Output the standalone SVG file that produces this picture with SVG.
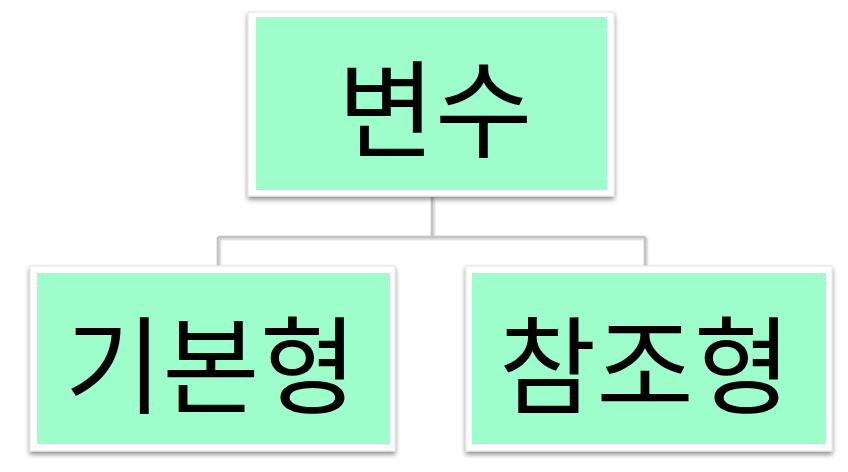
<svg xmlns="http://www.w3.org/2000/svg" width="848" height="472" viewBox="0 0 848 472">
<defs>
<filter id="sh" x="-10%" y="-10%" width="120%" height="130%">
<feGaussianBlur in="SourceAlpha" stdDeviation="2.5"/>
<feOffset dx="0" dy="3" result="b"/>
<feComponentTransfer><feFuncA type="linear" slope="0.45"/></feComponentTransfer>
<feMerge><feMergeNode/><feMergeNode in="SourceGraphic"/></feMerge>
</filter>
<filter id="lsh" x="-10%" y="-10%" width="120%" height="130%">
<feGaussianBlur in="SourceAlpha" stdDeviation="1"/>
<feOffset dx="1" dy="1" result="b"/>
<feComponentTransfer><feFuncA type="linear" slope="0.3"/></feComponentTransfer>
<feMerge><feMergeNode/><feMergeNode in="SourceGraphic"/></feMerge>
</filter>
</defs>
<style>
.frame{fill:#ffffff;stroke:#e4e4e4;stroke-width:1}
.fill{fill:#9dfecb}
.lbl{font-family:"Noto Sans CJK KR","Noto Sans",sans-serif;font-size:106px;fill:#000000;text-anchor:middle}
.con{fill:none;stroke:#c4c4c4;stroke-width:2.5}
</style>
<rect width="848" height="472" fill="#ffffff"/>
<g id="connectors" filter="url(#lsh)">
<path class="con" d="M432 197 V236 M218 237 H645 M218 237 V265 M645 237 V265"/>
</g>
<g id="node-root">
<rect class="frame" x="248" y="12" width="366" height="184" filter="url(#sh)"/>
<rect class="fill" x="256" y="17" width="351" height="173"/>
<text class="lbl" x="435" y="149">변수</text>
</g>
<g id="node-primitive">
<rect class="frame" x="30" y="266" width="365" height="185" filter="url(#sh)"/>
<rect class="fill" x="37" y="273" width="353" height="171"/>
<text class="lbl" x="211" y="405">기본형</text>
</g>
<g id="node-reference">
<rect class="frame" x="466" y="266" width="366" height="185" filter="url(#sh)"/>
<rect class="fill" x="472" y="273" width="354" height="171"/>
<text class="lbl" x="645" y="405">참조형</text>
</g>
</svg>
